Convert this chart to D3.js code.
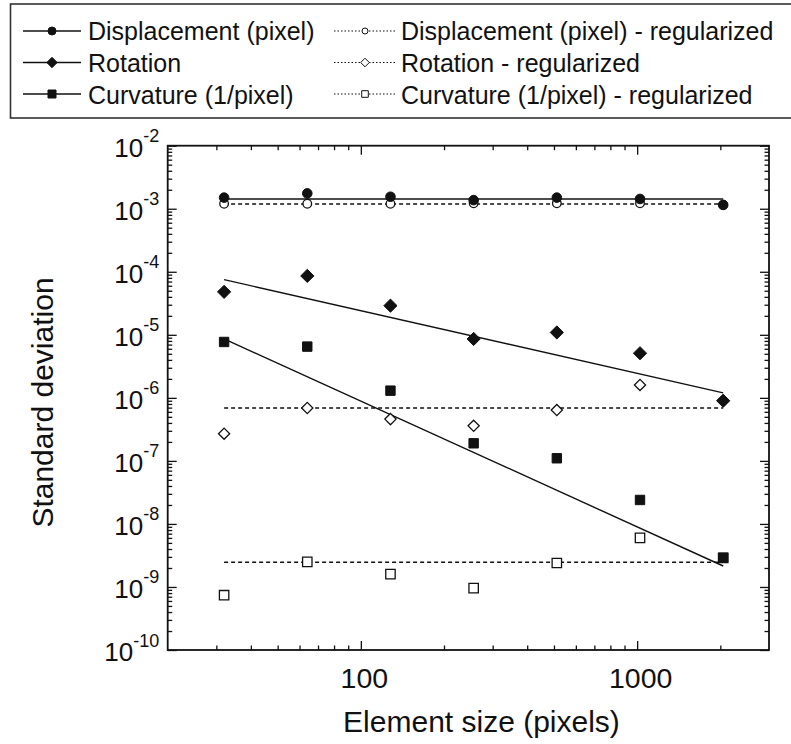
<!DOCTYPE html>
<html>
<head>
<meta charset="utf-8">
<script src="https://cdn.jsdelivr.net/npm/d3@7"></script>
<style>
  html, body { margin: 0; padding: 0; background: #fff; }
  svg { display: block; font-family: "Liberation Sans", Arial, sans-serif; }
</style>
</head>
<body>
<svg id="chart" width="791" height="744"></svg>
<script>
// ---------- data ----------
const sizes = [32, 64, 128, 256, 512, 1024, 2048];
const displacement    = [1.50e-3, 1.75e-3, 1.55e-3, 1.37e-3, 1.50e-3, 1.43e-3, 1.15e-3];
const displacementReg = [1.20e-3, 1.20e-3, 1.20e-3, 1.22e-3, 1.22e-3, 1.22e-3, 1.15e-3];
const rotation        = [4.8e-5, 8.6e-5, 2.9e-5, 8.6e-6, 1.09e-5, 5.1e-6, 9.0e-7];
const rotationReg     = [2.7e-7, 6.9e-7, 4.6e-7, 3.6e-7, 6.4e-7, 1.6e-6, 9.0e-7];
const curvature       = [7.7e-6, 6.5e-6, 1.3e-6, 1.9e-7, 1.1e-7, 2.4e-8, 2.9e-9];
const curvatureReg    = [7.4e-10, 2.5e-9, 1.6e-9, 9.6e-10, 2.4e-9, 6.0e-9, 2.9e-9];

// fitted lines (end points)
const fitSizes           = [32, 2048];
const displacementFit    = [1.43e-3, 1.43e-3];
const displacementRegFit = [1.19e-3, 1.19e-3];
const rotationFit        = [7.5e-5, 1.2e-6];
const rotationRegFit     = [6.9e-7, 6.9e-7];
const curvatureFit       = [8.6e-6, 2.15e-9];
const curvatureRegFit    = [2.47e-9, 2.47e-9];

const xTickValues = [100, 1000];
const xTickLabels = ["100", "1000"];
const yTickExponents = [-10, -9, -8, -7, -6, -5, -4, -3, -2];
const legendLabels = [
  "Displacement (pixel)", "Rotation", "Curvature (1/pixel)",
  "Displacement (pixel) - regularized", "Rotation - regularized", "Curvature (1/pixel) - regularized"
];
const xTitle = "Element size (pixels)";
const yTitle = "Standard deviation";

// ---------- layout ----------
const L = 167.7, R = 769, T = 145.7, B = 650;
const svg = d3.select("#chart");
const x = d3.scaleLog().domain([20, 3000]).range([L, R]);
const y = d3.scaleLog().domain([1e-10, 1e-2]).range([B, T]);

const ink = "#111";

// minor ticks
const xMinor = [];
[10, 100, 1000].forEach(d => { for (let k = 2; k <= 9; k++) { const v = d * k; if (v > 20 && v < 3000) xMinor.push(v); } });
const yMinor = [];
for (let e = -10; e < -2; e++) for (let k = 2; k <= 9; k++) yMinor.push(k * Math.pow(10, e));
const yMajor = yTickExponents.map(e => Math.pow(10, e));

function styleAxis(g) {
  g.select(".domain").remove();
  g.selectAll(".tick line").attr("stroke", ink).attr("stroke-width", 1.3);
}
// bottom
svg.append("g").attr("transform", `translate(0,${B})`)
  .call(d3.axisBottom(x).tickValues(xMinor).tickSize(-4.5).tickFormat("")).call(styleAxis);
svg.append("g").attr("transform", `translate(0,${B})`)
  .call(d3.axisBottom(x).tickValues(xTickValues).tickSize(-9).tickFormat("")).call(styleAxis);
// top
svg.append("g").attr("transform", `translate(0,${T})`)
  .call(d3.axisTop(x).tickValues(xMinor).tickSize(-4.5).tickFormat("")).call(styleAxis);
svg.append("g").attr("transform", `translate(0,${T})`)
  .call(d3.axisTop(x).tickValues(xTickValues).tickSize(-9).tickFormat("")).call(styleAxis);
// left
svg.append("g").attr("transform", `translate(${L},0)`)
  .call(d3.axisLeft(y).tickValues(yMinor).tickSize(-4.5).tickFormat("")).call(styleAxis);
svg.append("g").attr("transform", `translate(${L},0)`)
  .call(d3.axisLeft(y).tickValues(yMajor).tickSize(-9).tickFormat("")).call(styleAxis);
// right
svg.append("g").attr("transform", `translate(${R},0)`)
  .call(d3.axisRight(y).tickValues(yMinor).tickSize(-4.5).tickFormat("")).call(styleAxis);
svg.append("g").attr("transform", `translate(${R},0)`)
  .call(d3.axisRight(y).tickValues(yMajor).tickSize(-9).tickFormat("")).call(styleAxis);

// frame
svg.append("rect").attr("x", L).attr("y", T).attr("width", R - L).attr("height", B - T)
  .attr("fill", "none").attr("stroke", ink).attr("stroke-width", 1.8);

// y tick labels
yTickExponents.forEach(e => {
  const t = svg.append("text").attr("x", L - 8.5).attr("y", y(Math.pow(10, e)) + 11)
    .attr("text-anchor", "end").attr("fill", ink).attr("font-size", 26);
  t.append("tspan").text("10");
  t.append("tspan").attr("font-size", 18).attr("dy", -14.5).text(String(e));
});
// x tick labels
xTickValues.forEach((v, i) => {
  svg.append("text").attr("x", x(v) + 3.5).attr("y", B + 38.3)
    .attr("text-anchor", "middle").attr("fill", ink).attr("font-size", 28.5).text(xTickLabels[i]);
});
// titles
svg.append("text").attr("x", 481.5).attr("y", 731.7).attr("text-anchor", "middle")
  .attr("fill", ink).attr("font-size", 30).text(xTitle);
svg.append("text").attr("transform", "translate(53,402.5) rotate(-90)").attr("text-anchor", "middle")
  .attr("fill", ink).attr("font-size", 30).text(yTitle);

// ---------- marks ----------
function markerPath(kind, s) {
  if (kind === "circle") return d3.symbol(d3.symbolCircle, Math.PI * s * s)();
  if (kind === "diamond") return `M0,${-s}L${s},0L0,${s}L${-s},0Z`;
  return `M${-s},${-s}H${s}V${s}H${-s}Z`;
}
const lineGen = d3.line().x(d => x(d[0])).y(d => y(d[1]));
const plot = svg.append("g");

const fits = [
  [displacementFit, false], [rotationFit, false], [curvatureFit, false],
  [displacementRegFit, true], [rotationRegFit, true], [curvatureRegFit, true]
];
fits.forEach(([vals, dashed]) => {
  plot.append("path").datum(d3.zip(fitSizes, vals)).attr("d", lineGen)
    .attr("fill", "none").attr("stroke", ink).attr("stroke-width", dashed ? 1.5 : 1.4)
    .attr("stroke-dasharray", dashed ? "4,3" : null);
});

const series = [
  { vals: displacementReg, kind: "circle", s: 4.3, filled: false },
  { vals: rotationReg, kind: "diamond", s: 5.6, filled: false },
  { vals: curvatureReg, kind: "square", s: 4.7, filled: false },
  { vals: displacement, kind: "circle", s: 4.8, filled: true },
  { vals: rotation, kind: "diamond", s: 6.6, filled: true },
  { vals: curvature, kind: "square", s: 4.7, filled: true }
];
series.forEach(sr => {
  plot.append("g").selectAll("path").data(d3.zip(sizes, sr.vals)).join("path")
    .attr("transform", d => `translate(${x(d[0])},${y(d[1])})`)
    .attr("d", markerPath(sr.kind, sr.s))
    .attr("fill", sr.filled ? ink : "#fff")
    .attr("stroke", ink).attr("stroke-width", sr.filled ? 1 : 1.3);
});

// ---------- legend ----------
svg.append("rect").attr("x", 10.5).attr("y", 4).attr("width", 800).attr("height", 114)
  .attr("fill", "none").attr("stroke", "#333").attr("stroke-width", 1.6);
const rowY = [31, 62.5, 94];
const rowBase = [39.5, 72, 104];
const legendItems = [
  { kind: "circle", s: 4, filled: true, col: 0 },
  { kind: "diamond", s: 5.2, filled: true, col: 0 },
  { kind: "square", s: 4, filled: true, col: 0 },
  { kind: "circle", s: 3, filled: false, col: 1 },
  { kind: "diamond", s: 4.3, filled: false, col: 1 },
  { kind: "square", s: 3.3, filled: false, col: 1 }
];
const cols = [
  { x1: 23, x2: 81, mx: 52, tx: 88 },
  { x1: 334, x2: 397, mx: 365, tx: 401 }
];
legendItems.forEach((it, i) => {
  const r = i % 3, c = cols[it.col];
  const g = svg.append("g");
  g.append("line").attr("x1", c.x1).attr("x2", c.x2).attr("y1", rowY[r]).attr("y2", rowY[r])
    .attr("stroke", ink).attr("stroke-width", it.filled ? 1.4 : 1.2)
    .attr("stroke-dasharray", it.filled ? null : "1.5,2");
  g.append("path").attr("transform", `translate(${c.mx},${rowY[r]})`)
    .attr("d", markerPath(it.kind, it.s))
    .attr("fill", it.filled ? ink : "#fff").attr("stroke", ink).attr("stroke-width", it.filled ? 1 : 1);
  g.append("text").attr("x", c.tx).attr("y", rowBase[r]).attr("fill", ink)
    .attr("font-size", 25).text(legendLabels[i]);
});
</script>
</body>
</html>
